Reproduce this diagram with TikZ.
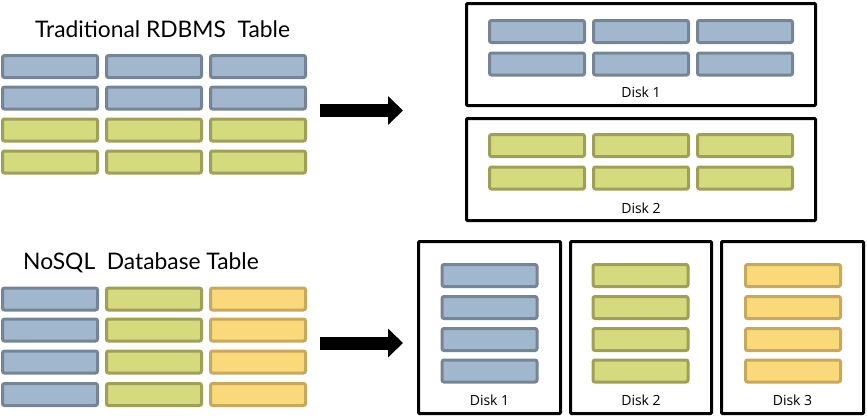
\documentclass[tikz,border=0pt]{standalone}
\usepackage{fontspec}
\setmainfont{Lato}
\newfontfamily\disklabelfont{Open Sans}
\usetikzlibrary{arrows.meta}
\definecolor{bfill}{RGB}{161,183,205}
\definecolor{bline}{RGB}{117,133,150}
\definecolor{gfill}{RGB}{212,218,125}
\definecolor{gline}{RGB}{158,160,85}
\definecolor{yfill}{RGB}{250,217,123}
\definecolor{yline}{RGB}{200,168,90}
\tikzset{
  cell/.style={draw, line width=3pt, rounded corners=2pt, minimum width=95pt, minimum height=22pt, inner sep=0pt},
  cellB/.style={cell, fill=bfill, draw=bline},
  cellG/.style={cell, fill=gfill, draw=gline},
  cellY/.style={cell, fill=yfill, draw=yline},
  diskbox/.style={draw=black, line width=3pt, rounded corners=1pt, inner sep=0pt, fill=white},
  disklabel/.style={font=\disklabelfont\fontsize{14}{16}\selectfont, inner sep=0pt},
  title/.style={font=\fontsize{22.8}{27}\selectfont, anchor=base west, inner sep=0pt},
  blockarrow/.style={line width=13pt, -{Triangle[length=15pt,width=28pt]}},
}
\begin{document}
\begin{tikzpicture}[x=1pt,y=-1pt]
\useasboundingbox (0,0) rectangle (867,418);
% titles
\node[title] (t1) at (35,37) {Traditional RDBMS\ \ Table};
\node[title] (t2) at (23,269) {NoSQL\ \ Database Table};
% top-left table
\foreach \c/\x in {1/50,2/154,3/258}{
  \node[cellB] (ta1\c) at (\x,66.5) {};
  \node[cellB] (ta2\c) at (\x,98) {};
  \node[cellG] (ta3\c) at (\x,130) {};
  \node[cellG] (ta4\c) at (\x,162) {};
}
% bottom-left table
\foreach \r/\y in {1/299,2/330,3/362,4/394.5}{
  \node[cellB] (tb\r1) at (50,\y) {};
  \node[cellG] (tb\r2) at (154,\y) {};
  \node[cellY] (tb\r3) at (258,\y) {};
}
% top disks
\node[diskbox, minimum width=349pt, minimum height=102pt] (d1) at (641,54.5) {};
\node[diskbox, minimum width=349pt, minimum height=102pt] (d2) at (641,169.5) {};
\foreach \c/\x in {1/537,2/641,3/745}{
  \node[cellB] (da1\c) at (\x,31.5) {};
  \node[cellB] (da2\c) at (\x,64) {};
  \node[cellG] (db1\c) at (\x,145.5) {};
  \node[cellG] (db2\c) at (\x,178) {};
}
\node[disklabel] (l1) at (641,92) {Disk 1};
\node[disklabel] (l2) at (641,208) {Disk 2};
% bottom disks
\node[diskbox, minimum width=142pt, minimum height=172pt] (e1) at (489.5,327.5) {};
\node[diskbox, minimum width=141pt, minimum height=172pt] (e2) at (641,327.5) {};
\node[diskbox, minimum width=142pt, minimum height=172pt] (e3) at (792.5,327.5) {};
\foreach \r/\y in {1/275.5,2/307.5,3/339.5,4/371}{
  \node[cellB] (eb\r) at (489.5,\y) {};
  \node[cellG] (eg\r) at (640.5,\y) {};
  \node[cellY] (ey\r) at (793,\y) {};
}
\node[disklabel] (m1) at (489.5,400) {Disk 1};
\node[disklabel] (m2) at (641,400) {Disk 2};
\node[disklabel] (m3) at (792.5,400) {Disk 3};
% arrows
\coordinate (as) at (320,110.5);
\coordinate (ae) at (403,110.5);
\coordinate (bs) at (320,343);
\coordinate (be) at (403,343);
\draw[blockarrow] (as) -- (ae);
\draw[blockarrow] (bs) -- (be);
\end{tikzpicture}
\end{document}
